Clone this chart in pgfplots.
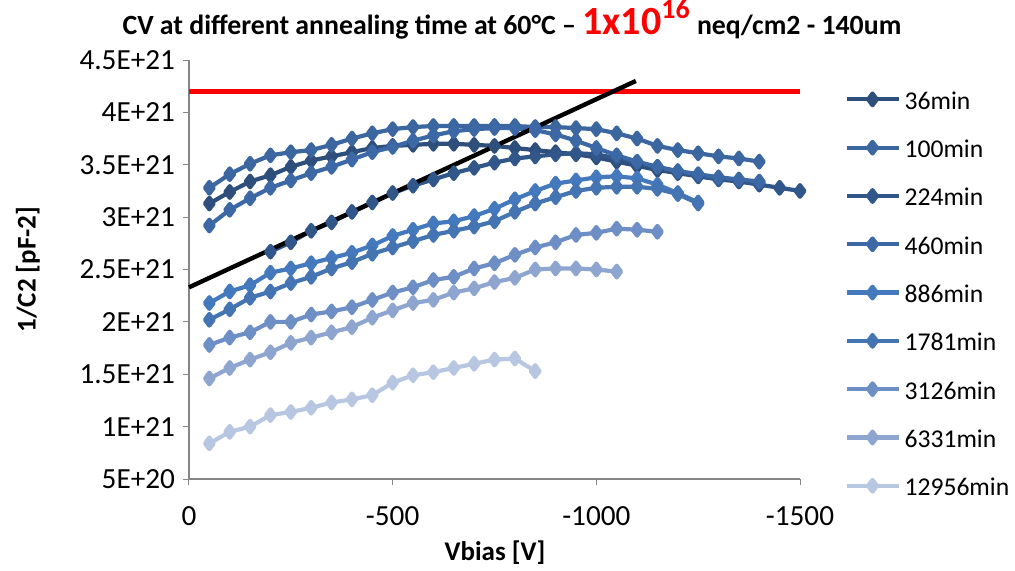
\documentclass[border=0pt]{standalone}
\usepackage{fontspec}
\setmainfont{Carlito}
\usepackage{pgfplots}
\pgfplotsset{compat=1.18}
\definecolor{c36}{HTML}{2E4F7C}
\definecolor{c100}{HTML}{3B66A0}
\definecolor{c224}{HTML}{30568A}
\definecolor{c460}{HTML}{3C69A6}
\definecolor{c886}{HTML}{4579BD}
\definecolor{c1781}{HTML}{4474B2}
\definecolor{c3126}{HTML}{6E8FC6}
\definecolor{c6331}{HTML}{8EA5D0}
\definecolor{c12956}{HTML}{B8C7E1}
\definecolor{axgray}{HTML}{868686}
\begin{document}
\begin{tikzpicture}
\useasboundingbox (0,0) rectangle (507.5pt,285pt);
\begin{axis}[
  at={(94.5pt,45.5pt)}, anchor=south west,
  scale only axis, width=305.5pt, height=209.5pt,
  xmin=-1500, xmax=0, x dir=reverse,
  ymin=0.5, ymax=4.5,
  xtick={0,-500,-1000,-1500}, xticklabels={0,-500,-1000,-1500},
  ytick={0.5,1,1.5,2,2.5,3,3.5,4,4.5},
  yticklabels={5E+20,1E+21,1.5E+21,2E+21,2.5E+21,3E+21,3.5E+21,4E+21,4.5E+21},
  axis line style={draw=none},
  tick align=outside, major tick length=3pt,
  xtick pos=left, ytick pos=left,
  tick style={axgray, line width=0.5pt},
  tick label style={font=\fontsize{14.6}{17}\selectfont, black},
  xticklabel style={yshift=-7pt},
  yticklabel style={xshift=-0.5pt},
  title={CV at different annealing time at 60°C \textendash{} {\color{red}\fontsize{20}{22}\selectfont 1x10\textsuperscript{16}} neq/cm2 - 140um},
  title style={at={(0.5286,1.0334)}, anchor=base, font=\bfseries\fontsize{13.9}{16}\selectfont},
  xlabel={Vbias [V]},
  xlabel style={at={(0.5008,-0.1766)}, anchor=center, font=\bfseries\fontsize{13.5}{16}\selectfont},
  ylabel={1/C2 [pF-2]},
  ylabel style={at={(-0.2635,0.5)}, anchor=center, rotate=0, font=\bfseries\fontsize{13.5}{16}\selectfont},
  clip=false,
  legend cell align=left,
  legend style={at={(1.072,0.9404)}, anchor=north west, draw=none, fill=none, inner sep=0pt,
    row sep=10.15pt, font=\fontsize{12.8}{15}\selectfont,
    nodes={text height=10pt, text depth=0pt, inner sep=2pt}},
  legend image code/.code={\draw[#1, mark repeat=2, mark phase=2] plot coordinates {(0pt,0pt) (13pt,0pt) (26pt,0pt)};},
  every axis plot/.append style={line width=2.1pt, mark=diamond*, mark size=2.9pt, line join=round, mark options={solid}},
]
\draw[axgray, line width=0.6pt] (rel axis cs:0,0) -- (rel axis cs:0,1);
\draw[axgray, line width=0.6pt] (rel axis cs:0,0) -- (rel axis cs:1,0);

\addplot[color=c36] coordinates {
(-50,3.13) (-100,3.24) (-150,3.34) (-200,3.40) (-250,3.48) (-300,3.54) (-350,3.58) (-400,3.62) (-450,3.66) (-500,3.68)
(-550,3.69) (-600,3.70) (-650,3.70) (-700,3.69) (-750,3.68) (-800,3.66) (-850,3.64) (-900,3.62) (-950,3.60) (-1000,3.57)
(-1050,3.53) (-1100,3.49) (-1150,3.45) (-1200,3.42) (-1250,3.39) (-1300,3.37) (-1350,3.35) (-1400,3.33)};
\addlegendentry{36min}
\addplot[color=c100] coordinates {
(-50,3.28) (-100,3.41) (-150,3.51) (-200,3.59) (-250,3.62) (-300,3.64) (-350,3.69) (-400,3.75) (-450,3.80) (-500,3.84)
(-550,3.86) (-600,3.87) (-650,3.87) (-700,3.87) (-750,3.87) (-800,3.87) (-850,3.86) (-900,3.86) (-950,3.85) (-1000,3.84)
(-1050,3.80) (-1100,3.75) (-1150,3.68) (-1200,3.64) (-1250,3.61) (-1300,3.58) (-1350,3.56) (-1400,3.53)};
\addlegendentry{100min}
\addplot[color=c224] coordinates {
(-200,2.67) (-250,2.76) (-300,2.87) (-350,2.95) (-400,3.05) (-450,3.14) (-500,3.23) (-550,3.30) (-600,3.36) (-650,3.42)
(-700,3.47) (-750,3.52) (-800,3.56) (-850,3.58) (-900,3.60) (-950,3.61) (-1000,3.60) (-1050,3.56) (-1100,3.52) (-1150,3.48)
(-1200,3.43) (-1250,3.39) (-1300,3.36) (-1350,3.34) (-1400,3.31) (-1450,3.28) (-1500,3.25)};
\addlegendentry{224min}
\addplot[color=c460] coordinates {
(-50,2.92) (-100,3.07) (-150,3.18) (-200,3.28) (-250,3.35) (-300,3.42) (-350,3.48) (-400,3.55) (-450,3.62) (-500,3.67)
(-550,3.73) (-600,3.78) (-650,3.82) (-700,3.84) (-750,3.85) (-800,3.85) (-850,3.83) (-900,3.79) (-950,3.73) (-1000,3.66)
(-1050,3.59) (-1100,3.53) (-1150,3.48) (-1200,3.44) (-1250,3.41) (-1300,3.38) (-1350,3.36) (-1400,3.34)};
\addlegendentry{460min}
\addplot[color=c886] coordinates {
(-50,2.18) (-100,2.29) (-150,2.35) (-200,2.47) (-250,2.51) (-300,2.56) (-350,2.61) (-400,2.66) (-450,2.73) (-500,2.82)
(-550,2.88) (-600,2.94) (-650,2.96) (-700,3.01) (-750,3.08) (-800,3.17) (-850,3.25) (-900,3.32) (-950,3.35) (-1000,3.38)
(-1050,3.39) (-1100,3.37) (-1150,3.31) (-1200,3.23) (-1250,3.14)};
\addlegendentry{886min}
\addplot[color=c1781] coordinates {
(-50,2.02) (-100,2.12) (-150,2.23) (-200,2.29) (-250,2.37) (-300,2.43) (-350,2.51) (-400,2.57) (-450,2.65) (-500,2.71)
(-550,2.77) (-600,2.83) (-650,2.87) (-700,2.91) (-750,2.96) (-800,3.05) (-850,3.13) (-900,3.19) (-950,3.25) (-1000,3.28)
(-1050,3.29) (-1100,3.29) (-1150,3.27) (-1200,3.22) (-1250,3.13)};
\addlegendentry{1781min}
\addplot[color=c3126] coordinates {
(-50,1.78) (-100,1.85) (-150,1.90) (-200,2.00) (-250,2.00) (-300,2.07) (-350,2.10) (-400,2.14) (-450,2.21) (-500,2.28)
(-550,2.33) (-600,2.40) (-650,2.43) (-700,2.51) (-750,2.56) (-800,2.64) (-850,2.71) (-900,2.76) (-950,2.83) (-1000,2.85)
(-1050,2.89) (-1100,2.88) (-1150,2.86)};
\addlegendentry{3126min}
\addplot[color=c6331] coordinates {
(-50,1.46) (-100,1.56) (-150,1.64) (-200,1.71) (-250,1.80) (-300,1.85) (-350,1.90) (-400,1.95) (-450,2.04) (-500,2.11)
(-550,2.18) (-600,2.21) (-650,2.28) (-700,2.32) (-750,2.38) (-800,2.42) (-850,2.50) (-900,2.51) (-950,2.51) (-1000,2.50)
(-1050,2.48)};
\addlegendentry{6331min}
\addplot[color=c12956] coordinates {
(-50,0.84) (-100,0.95) (-150,1.00) (-200,1.11) (-250,1.14) (-300,1.18) (-350,1.23) (-400,1.26) (-450,1.30) (-500,1.42)
(-550,1.49) (-600,1.52) (-650,1.56) (-700,1.60) (-750,1.64) (-800,1.65) (-850,1.53)};
\addlegendentry{12956min}

\addplot[color=red, line width=2.8pt, mark=none, forget plot] coordinates {(0,4.2) (-1500,4.2)};
\addplot[color=black, line width=2.2pt, mark=none, forget plot] coordinates {(0,2.33) (-1097,4.30)};
\end{axis}
\end{tikzpicture}
\end{document}
